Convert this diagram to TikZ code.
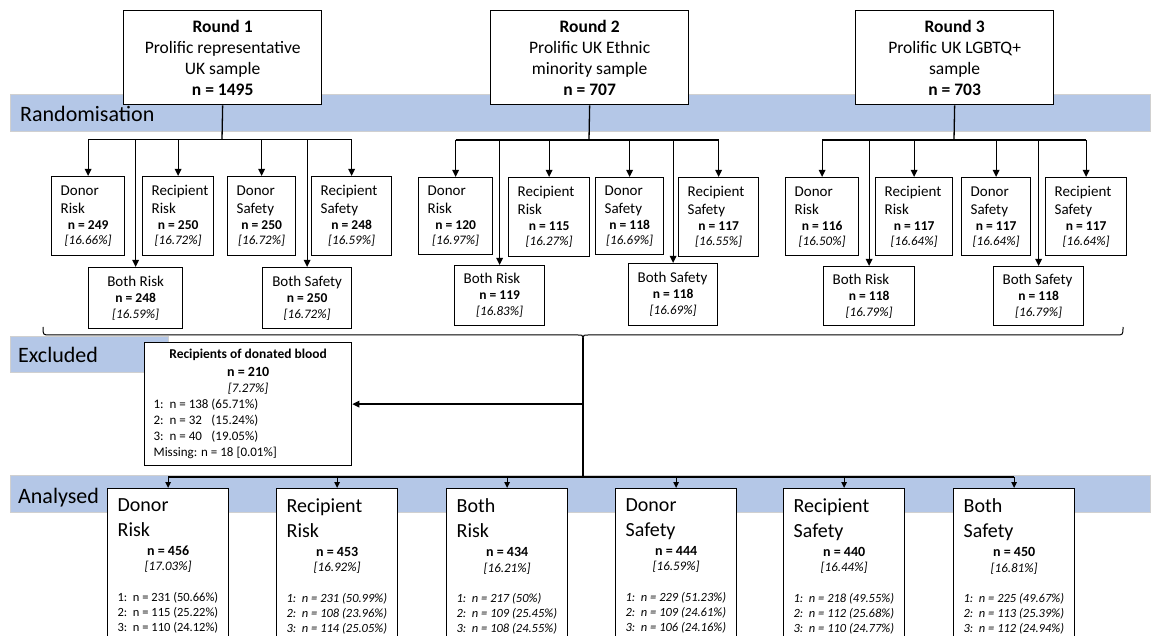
\documentclass[tikz,border=0pt]{standalone}
\usepackage{fontspec}
\setmainfont{Carlito}
\usetikzlibrary{arrows.meta,calc}
\definecolor{bandblue}{HTML}{B4C7E7}
\definecolor{bandedge}{HTML}{D0D0D0}
\newcommand{\armbox}[8]{\node[box, minimum width=#4pt, minimum height=#5pt] (#1) at (#2,#3) {\begin{minipage}{\dimexpr#4pt-18pt\relax}\hyphenpenalty=10000 {\fontsize{15}{18}\selectfont #6\par}{\centering\fontsize{13.5}{16}\selectfont\bfseries n = #7\par}{\centering\fontsize{13}{15}\selectfont\itshape [#8\%]\par}\end{minipage}};}
\newcommand{\bothbox}[9]{\node[box, minimum width=#4pt, minimum height=#5pt] (#1) at (#2,#3) {\begin{minipage}{\dimexpr#4pt-18pt\relax}{#9\fontsize{15}{16}\selectfont\mbox{#6}\par}{\centering\fontsize{13.5}{16}\selectfont\bfseries n = #7\par}{\centering\fontsize{13}{16}\selectfont\itshape [#8\%]\par}\end{minipage}};}
\newcommand{\anbox}[9]{\node[box, inner xsep=10pt, inner ysep=10pt] (#1) at (#2,488) {\begin{minipage}[t][170pt][t]{101pt}{\fontsize{20}{25}\selectfont #3\par}{\centering\fontsize{14}{19}\selectfont\bfseries n = #4\par}{\centering\fontsize{13}{15.5}\selectfont\itshape [#5\%]\par}\vspace{15.5pt}{\fontsize{12.5}{15}\selectfont#9\mbox{1:\ \ n = #6}\\\mbox{2:\ \ n = #7}\\\mbox{3:\ \ n = #8}\par}\end{minipage}};}
\begin{document}
\begin{tikzpicture}[x=1pt,y=-1pt,
  box/.style={draw=black, line width=1.3pt, fill=white, rectangle, inner sep=0pt, anchor=north west},
  band/.style={fill=bandblue, draw=bandedge, line width=1pt},
  conn/.style={line width=1.3pt, draw=black},
  arr/.style={conn, -{Triangle[length=7pt,width=6.5pt]}},
  sarr/.style={conn, -{Triangle[length=6pt,width=5.5pt]}},
  bandlabel/.style={anchor=base west, inner sep=0pt, font=\fontsize{22}{26}\selectfont},
  roundbox/.style={box, minimum width=198pt, minimum height=94pt, align=center, font=\fontsize{17.5}{21}\selectfont},
]
\useasboundingbox (0,0) rectangle (1152,636);
\clip (0,0) rectangle (1152,636);

% bands
\draw[band] (10,95) rectangle (1150,132);
\node[bandlabel] (lrand) at (20,122) {Randomisation};
\draw[band] (10,337) rectangle (168,373);
\node[bandlabel] (lexc) at (18,363) {Excluded};
\draw[band] (10,475) rectangle (1150,512);
\node[bandlabel] (lana) at (18,503) {Analysed};

% round boxes
\node[roundbox] (r1) at (123,10) {\textbf{Round 1}\\Prolific representative\\UK sample\\\textbf{n = 1495}};
\node[roundbox] (r2) at (490,10) {\textbf{Round 2}\\Prolific UK Ethnic\\minority sample\\\textbf{n = 707}};
\node[roundbox] (r3) at (855,10) {\textbf{Round 3}\\Prolific UK LGBTQ+\\sample\\\textbf{n = 703}};

% arm boxes round 1
\armbox{dr1}{51}{176}{73}{79}{Donor\\Risk}{249}{16.66}
\armbox{rr1}{142}{176}{71}{79}{Recipient\\Risk}{250}{16.72}
\armbox{ds1}{227}{176}{68}{79}{Donor\\Safety}{250}{16.72}
\armbox{rs1}{311}{176}{80}{79}{Recipient\\Safety}{248}{16.59}
\bothbox{br1}{88}{267}{94}{61}{Both Risk}{248}{16.59}{\centering}
\bothbox{bs1}{262}{267}{89}{61}{Both Safety}{250}{16.72}{\centering}
% round 2
\armbox{dr2}{418}{177}{74}{77}{Donor\\Risk}{120}{16.97}
\armbox{rr2}{508}{177}{81}{79}{Recipient\\Risk}{115}{16.27}
\armbox{ds2}{595}{177}{68}{77}{Donor\\Safety}{118}{16.69}
\armbox{rs2}{678}{177}{80}{79}{Recipient\\Safety}{117}{16.55}
\bothbox{br2}{454}{265}{90}{60}{Both Risk}{119}{16.83}{\relax}
\bothbox{bs2}{628}{263}{89}{62}{Both Safety}{118}{16.69}{\relax}
% round 3
\armbox{dr3}{785}{177}{73}{78}{Donor\\Risk}{116}{16.50}
\armbox{rr3}{875}{177}{77}{78}{Recipient\\Risk}{117}{16.64}
\armbox{ds3}{961}{177}{69}{78}{Donor\\Safety}{117}{16.64}
\armbox{rs3}{1045}{177}{81}{78}{Recipient\\Safety}{117}{16.64}
\bothbox{br3}{823}{266}{91}{59}{Both Risk}{118}{16.79}{\relax}
\bothbox{bs3}{993}{266}{90}{59}{Both Safety}{118}{16.79}{\relax}

% randomisation connectors
\coordinate (b1) at (222,139.5);
\coordinate (b2) at (589,140);
\coordinate (b3) at (954,140);
\draw[conn] (r1.south) -- (b1);
\draw[conn] (r2.south) -- (b2);
\draw[conn] (r3.south) -- (b3);
\draw[conn] (dr1.north |- b1) -- (rs1.north |- b1);
\draw[conn] (dr2.north |- b2) -- (rs2.north |- b2);
\draw[conn] (dr3.north |- b3) -- (rs3.north |- b3);
\foreach \n in {dr1,rr1,ds1,rs1,br1,bs1}{\draw[arr] (\n.north |- b1) -- (\n.north);}
\foreach \n in {dr2,rr2,ds2,rs2,br2,bs2}{\draw[arr] (\n.north |- b2) -- (\n.north);}
\foreach \n in {dr3,rr3,ds3,rs3,br3,bs3}{\draw[arr] (\n.north |- b3) -- (\n.north);}

% brace
\coordinate (bt) at (583,338);
\coordinate (bl) at (43,327);
\coordinate (br) at (1123,327);
\draw[line width=1pt] (bl) .. controls (43,335) and (43,335) .. (50,335) -- (578,335) .. controls (582,335) and (583,335) .. (bt);
\draw[line width=1pt] (br) .. controls (1123,335) and (1123,335) .. (1116,335) -- (588,335) .. controls (584,335) and (583,335) .. (bt);

% excluded box
\node[box, minimum width=207pt, minimum height=123pt] (ex) at (144,342) {\begin{minipage}{189pt}\fontsize{13}{16}\selectfont
{\centering\fontsize{13.5}{16}\selectfont\bfseries Recipients of donated blood\par}
{\centering\fontsize{14}{18}\selectfont\bfseries n = 210\par}
{\centering\itshape [7.27\%]\par}
1:\ \ n = 138 (65.71\%)\\
2:\ \ n = 32\phantom{0} (15.24\%)\\
3:\ \ n = 40\phantom{0} (19.05\%)\\
Missing: n = 18 [0.01\%]\par\end{minipage}};

% analysed boxes
\anbox{an1}{107}{Donor\\Risk}{456}{17.03}{231 (50.66\%)}{115 (25.22\%)}{110 (24.12\%)}{\upshape}
\anbox{an2}{276}{Recipient\\Risk}{453}{16.92}{231 (50.99\%)}{108 (23.96\%)}{114 (25.05\%)}{\itshape}
\anbox{an3}{446}{Both\\Risk}{434}{16.21}{217 (50\%)}{109 (25.45\%)}{108 (24.55\%)}{\itshape}
\anbox{an4}{615}{Donor\\Safety}{444}{16.59}{229 (51.23\%)}{109 (24.61\%)}{106 (24.16\%)}{\itshape}
\anbox{an5}{783}{Recipient\\Safety}{440}{16.44}{218 (49.55\%)}{112 (25.68\%)}{110 (24.77\%)}{\itshape}
\anbox{an6}{953}{Both\\Safety}{450}{16.81}{225 (49.67\%)}{113 (25.39\%)}{112 (24.94\%)}{\itshape}

% flow to excluded and analysed
\coordinate (aj) at (583,476.5);
\coordinate (ej) at (bt |- ex.east);
\draw[conn] (bt) -- (aj);
\draw[arr] (ej) -- (ex.east);
\draw[line width=2pt] (an1.north |- aj) -- (an6.north |- aj);
\foreach \n in {an1,an2,an3,an4,an5,an6}{\draw[sarr] (\n.north |- aj) -- (\n.north);}
\end{tikzpicture}
\end{document}
